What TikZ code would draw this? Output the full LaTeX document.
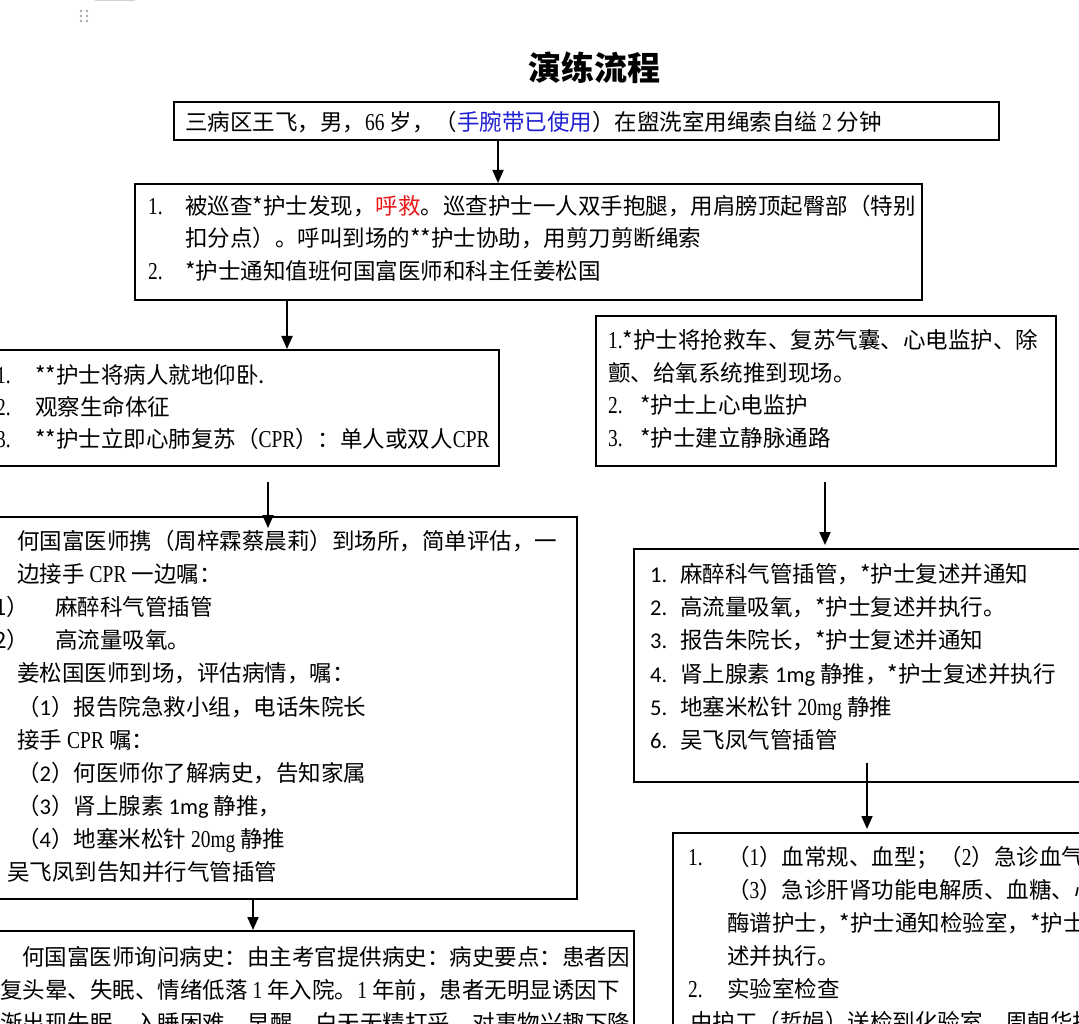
\documentclass[tikz,border=0pt]{standalone}
\usepackage{fontspec}
\setmainfont{Noto Sans CJK SC}
\newfontfamily\ser{Liberation Serif}[Scale=1.08, FakeStretch=0.8]
\newfontfamily\lat{Carlito}
\usetikzlibrary{arrows.meta}
\definecolor{linkblue}{RGB}{30,30,210}
\definecolor{alertred}{RGB}{235,25,25}

\begin{document}
\begin{tikzpicture}[
    x=1pt, y=-1pt,
    box/.style={draw, line width=2.4pt, inner sep=0pt, anchor=north west},
    arr/.style={draw, line width=1.8pt, -{Triangle[width=11pt,length=13pt]}},
    txt/.style={anchor=base west, inner sep=0pt, font=\fontsize{22.5}{27}\selectfont},
    num/.style={txt, font=\fontsize{22.5}{27}\selectfont\ser}
]
    \useasboundingbox (0,0) rectangle (1079,1024);
    \clip (0,0) rectangle (1079,1024);
    \fill[white] (0,0) rectangle (1079,1024);

    % Define coordinates (first baselines)
    \def\bY{214.5}
    \def\cY{383.5}
    \def\dY{348.5}
    \def\eY{549.5}
    \def\fY{965.5}
    \def\gY{582.5}
    \def\hY{865.5}

    % Grip marks top left
    \draw[gray!35, line width=1.5pt] (95,0.7) -- (135,0.7);
    \foreach \dx in {81,87} {
        \foreach \dy in {11,16,21} {
            \fill[gray!70] (\dx,\dy) circle (1.3pt);
        }
    }

    % Title
    \node[anchor=base, inner sep=0pt, font=\fontsize{33}{40}\selectfont\bfseries] (title) at (594,80.5) {演练流程};

    % Boxes
    \node[box, minimum width=825pt, minimum height=38pt] (A) at (173,101) {};
    \node[box, minimum width=787pt, minimum height=116pt] (B) at (134,183) {};
    \node[box, minimum width=518pt, minimum height=116pt] (C) at (-20,349) {};
    \node[box, minimum width=460pt, minimum height=150pt] (D) at (595,315) {};
    \node[box, minimum width=596pt, minimum height=382pt] (E) at (-20,516) {};
    \node[box, minimum width=653pt, minimum height=130pt] (F) at (-20,930) {};
    \node[box, minimum width=470pt, minimum height=233pt] (G) at (633,548) {};
    \node[box, minimum width=430pt, minimum height=220pt] (H) at (672,832) {};

    % Box A
    \node[txt] (a1) at (185,130.5) {三病区王飞，男，{\ser 66} 岁，（\textcolor{linkblue}{手腕带已使用}）在盥洗室用绳索自缢 {\ser 2} 分钟};

    % Box B
    \foreach \n/\t [count=\i] in {
        {1.}/{被巡查*护士发现，\textcolor{alertred}{呼救}。巡查护士一人双手抱腿，用肩膀顶起臀部（特别},
        {}/{扣分点）。呼叫到场的**护士协助，用剪刀剪断绳索},
        {2.}/{*护士通知值班何国富医师和科主任姜松国}} {
        \node[num] (bn\i) at (148, \bY+32.5*\i-32.5) {\n};
        \node[txt] (bt\i) at (185, \bY+32.5*\i-32.5) {\t};
    }

    % Box C
    \foreach \n/\t [count=\i] in {
        {1.}/{**护士将病人就地仰卧.},
        {2.}/{观察生命体征},
        {3.}/{**护士立即心肺复苏（{\ser CPR}）：单人或双人{\ser CPR}}} {
        \node[num] (cn\i) at (-4, \cY+32*\i-32) {\n};
        \node[txt] (ct\i) at (35, \cY+32*\i-32) {\t};
    }

    % Box D
    \foreach \t [count=\i] in {
        {{\ser 1.}*护士将抢救车、复苏气囊、心电监护、除},
        {颤、给氧系统推到现场。},
        {\makebox[32pt][l]{\ser 2.}*护士上心电监护},
        {\makebox[32pt][l]{\ser 3.}*护士建立静脉通路}} {
        \node[txt] (d\i) at (608, \dY+32.7*\i-32.7) {\t};
    }

    % Box E
    \foreach \x/\t [count=\i] in {
        17/{何国富医师携（周梓霖蔡晨莉）到场所，简单评估，一},
        17/{边接手 {\ser CPR} 一边嘱：},
        -6/{\makebox[61pt][l]{1）}麻醉科气管插管},
        -6/{\makebox[61pt][l]{2）}高流量吸氧。},
        17/{姜松国医师到场，评估病情，嘱：},
        17/{（{\lat 1}）报告院急救小组，电话朱院长},
        17/{接手 {\ser CPR} 嘱：},
        17/{（{\lat 2}）何医师你了解病史，告知家属},
        17/{（{\lat 3}）肾上腺素 {\lat 1mg} 静推，},
        17/{（{\lat 4}）地塞米松针 {\ser 20mg} 静推},
        7/{吴飞凤到告知并行气管插管}} {
        \node[txt] (e\i) at (\x, \eY+33.1*\i-33.1) {\t};
    }

    % Box F
    \foreach \x/\t [count=\i] in {
        22/{何国富医师询问病史：由主考官提供病史：病史要点：患者因},
        0/{复头晕、失眠、情绪低落 {\ser 1} 年入院。{\ser 1} 年前，患者无明显诱因下},
        0/{渐出现失眠、入睡困难、早醒，白天无精打采，对事物兴趣下降}} {
        \node[txt] (f\i) at (\x, \fY+33*\i-33) {\t};
    }

    % Box G
    \foreach \t [count=\i] in {
        {麻醉科气管插管，*护士复述并通知},
        {高流量吸氧，*护士复述并执行。},
        {报告朱院长，*护士复述并通知},
        {肾上腺素 {\lat 1mg} 静推，*护士复述并执行},
        {地塞米松针 {\ser 20mg} 静推},
        {吴飞凤气管插管}} {
        \node[txt, font=\fontsize{22.5}{27}\selectfont\lat] (gn\i) at (650, \gY+33.2*\i-33.2) {\i.};
        \node[txt] (gt\i) at (680, \gY+33.2*\i-33.2) {\t};
    }

    % Box H
    \foreach \n/\t [count=\i] in {
        {1.}/{（{\ser 1}）血常规、血型；（{\ser 2}）急诊血气分析},
        {}/{（{\ser 3}）急诊肝肾功能电解质、血糖、心肌},
        {}/{酶谱护士，*护士通知检验室，*护士复},
        {}/{述并执行。},
        {2.}/{实验室检查}} {
        \node[num] (hn\i) at (688, \hY+33*\i-33) {\n};
        \node[txt] (ht\i) at (727, \hY+33*\i-33) {\t};
    }
    \node[txt] (h6) at (690, \hY+165) {由护工（哲娟）送检到化验室，周朝华护};

    % Connectors
    \coordinate (ab) at (498,0);
    \coordinate (bc) at (287,0);
    \coordinate (ce) at (268,0);
    \coordinate (ef) at (253,0);
    \coordinate (dg) at (825,0);
    \coordinate (gh) at (867,0);
    \draw[arr] (A.south -| ab) -- (B.north -| ab);
    \draw[arr] (B.south -| bc) -- (C.north -| bc);
    \draw[arr] ([yshift=-15pt]C.south -| ce) -- ([yshift=-12pt]E.north -| ce);
    \draw[arr] (E.south -| ef) -- (F.north -| ef);
    \draw[arr] ([yshift=-15pt]D.south -| dg) -- ([yshift=3pt]G.north -| dg);
    \draw[arr] ([yshift=20pt]G.south -| gh) -- ([yshift=3pt]H.north -| gh);

\end{tikzpicture}
\end{document}
